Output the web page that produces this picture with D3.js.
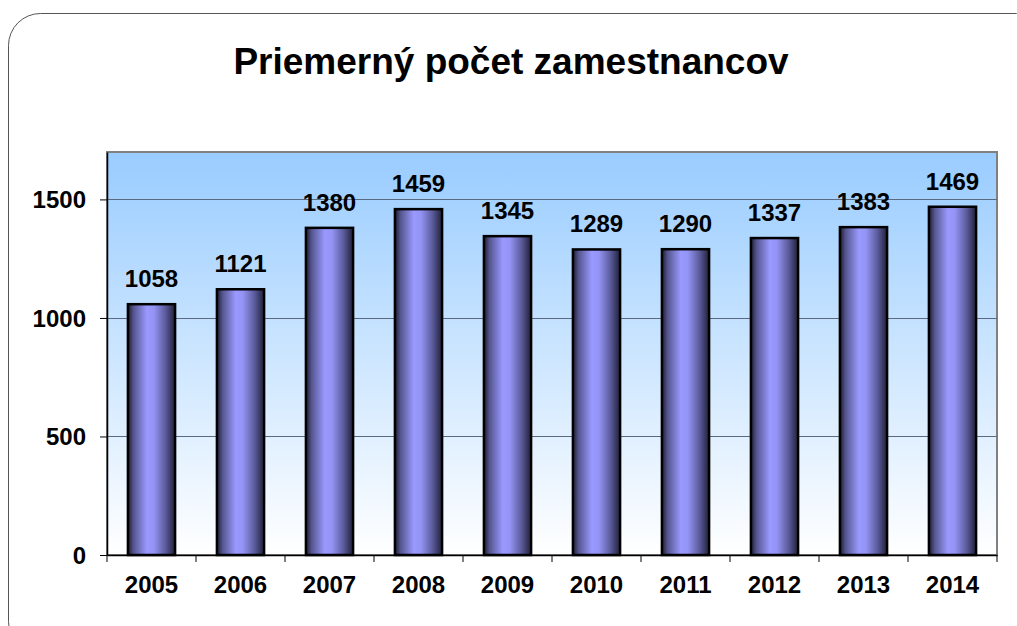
<!DOCTYPE html>
<html><head><meta charset="utf-8">
<script src="https://cdn.jsdelivr.net/npm/d3@7"></script>
<style>body{margin:0;background:#fff}svg{display:block}text{font-family:"Liberation Sans",Arial,sans-serif;font-weight:bold;fill:#000}</style>
</head><body>
<script>
const years = ["2005","2006","2007","2008","2009","2010","2011","2012","2013","2014"];
const employees = [1058,1121,1380,1459,1345,1289,1290,1337,1383,1469];
const yTicks = [0,500,1000,1500];
const title = "Priemerný počet zamestnancov";

const W = 1017, H = 626;
const svg = d3.select("body").append("svg").attr("width", W).attr("height", H);
const defs = svg.append("defs");

const bg = defs.append("linearGradient").attr("id","bg").attr("x1",0).attr("y1",0).attr("x2",0).attr("y2",1);
bg.append("stop").attr("offset","0%").attr("stop-color","#99ccff");
bg.append("stop").attr("offset","100%").attr("stop-color","#ffffff");

const bar = defs.append("linearGradient").attr("id","bar").attr("x1",0).attr("y1",0).attr("x2",1).attr("y2",0);
[["0%","#1c1c33"],["12%","#55558f"],["40%","#9999ff"],["55%","#9494f5"],["80%","#5a5a9a"],["100%","#202038"]]
  .forEach(([o,c]) => bar.append("stop").attr("offset",o).attr("stop-color",c));

// outer rounded frame
svg.append("rect").attr("x",8.5).attr("y",13.5).attr("width",1040).attr("height",640)
  .attr("rx",32).attr("ry",32).attr("fill","#fff").attr("stroke","#555").attr("stroke-width",1);

svg.append("text").attr("x",511).attr("y",74).attr("text-anchor","middle")
  .style("font-size","37px").text(title);

const m = {l:107, t:152, r:997, b:555};
const x = d3.scaleBand().domain(years).range([m.l, m.r]).paddingInner(0.47).paddingOuter(0.235);
const xb = d3.scaleBand().domain(years).range([m.l, m.r]);
const y = d3.scaleLinear().domain([0,1700]).range([m.b, m.t]);

const g = svg.append("g");
g.append("rect").attr("x",m.l).attr("y",m.t).attr("width",m.r-m.l).attr("height",m.b-m.t)
  .attr("fill","url(#bg)").attr("stroke","#808080").attr("stroke-width",2);

// gridlines
g.selectAll(".grid").data(yTicks.filter(d=>d>0)).join("line")
  .attr("x1",m.l).attr("x2",m.r).attr("y1",d=>Math.round(y(d))+0.5).attr("y2",d=>Math.round(y(d))+0.5)
  .attr("stroke","#5a6a80").attr("stroke-width",1);

// bars
g.selectAll(".bar").data(employees).join("rect")
  .attr("x",(d,i)=>x(years[i])).attr("width",x.bandwidth())
  .attr("y",d=>y(d)).attr("height",d=>y(0)-y(d))
  .attr("fill","url(#bar)").attr("stroke","#000").attr("stroke-width",2.5);

// value labels
g.selectAll(".val").data(employees).join("text")
  .attr("x",(d,i)=>x(years[i])+x.bandwidth()/2).attr("y",d=>y(d)-17)
  .attr("text-anchor","middle").style("font-size","24px").text(d=>d);

// axes
const yAxis = d3.axisLeft(y).tickValues(yTicks).tickFormat(d3.format("d")).tickSize(7).tickSizeOuter(0).tickPadding(14);
const ya = svg.append("g").attr("transform",`translate(${m.l},0)`).call(yAxis);
ya.select(".domain").attr("stroke","#000").attr("stroke-width",1.5);
ya.selectAll(".tick line").attr("stroke","#000");
ya.selectAll("text").style("font-size","24px").attr("font-family",null).attr("dy","0.35em");

const xAxis = d3.axisBottom(xb).tickSize(0).tickSizeOuter(0).tickPadding(38);
const xa = svg.append("g").attr("transform",`translate(0,${m.b})`).call(xAxis);
xa.select(".domain").attr("stroke","#000").attr("stroke-width",1.5);
xa.selectAll("text").style("font-size","24px").attr("font-family",null).attr("dy","0");
xa.selectAll(".sep").data(d3.range(years.length+1)).join("line")
  .attr("x1",i=>m.l+i*xb.step()).attr("x2",i=>m.l+i*xb.step()).attr("y1",0).attr("y2",7)
  .attr("stroke","#000");
</script>
</body></html>
